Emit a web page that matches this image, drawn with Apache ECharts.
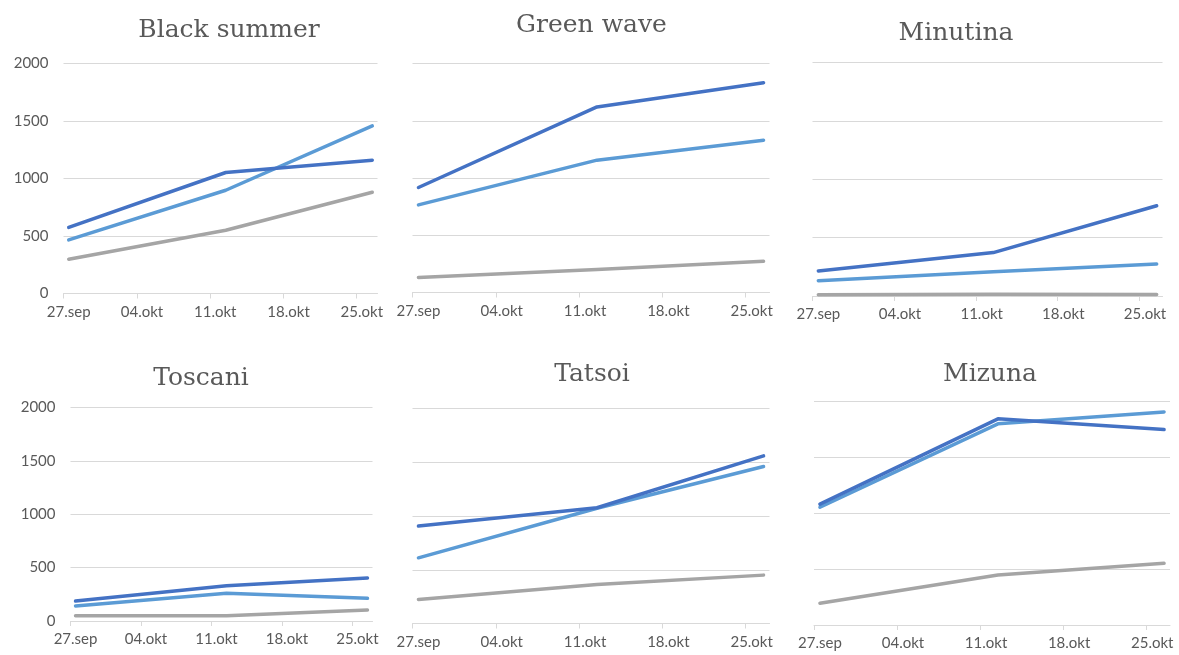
<!DOCTYPE html>
<html>
<head>
<meta charset="utf-8">
<title>Vekst per sort</title>
<script src="https://cdn.jsdelivr.net/npm/echarts@6/dist/echarts.min.js"></script>
<style>
  html, body { margin: 0; padding: 0; background: #ffffff; }
  #chart { width: 1179px; height: 655px; }
</style>
</head>
<body>
<div id="chart"></div>
<script>
// Varieties, one panel each
const varieties = ['Black summer', 'Green wave', 'Minutina', 'Toscani', 'Tatsoi', 'Mizuna'];

// Sampling dates and axis start (date axis runs 30 days)
const axisStart = '2021-09-27';
const sampleDates = ['2021-09-27', '2021-10-12', '2021-10-26'];
const tickLabels = ['27.sep', '04.okt', '11.okt', '18.okt', '25.okt'];
const yTicks = [0, 500, 1000, 1500, 2000];

// Series values per variety (same order as varieties)
const serie1 = [
  [575, 1052, 1159],
  [917, 1621, 1831],
  [215, 372, 773],
  [187, 331, 403],
  [907, 1077, 1559],
  [1081, 1845, 1749]
];
const serie2 = [
  [466, 898, 1458],
  [765, 1156, 1330],
  [131, 208, 274],
  [141, 259, 212],
  [611, 1072, 1460],
  [1054, 1800, 1907]
];
const serie3 = [
  [298, 550, 881],
  [131, 201, 273],
  [10, 14, 12],
  [50, 50, 103],
  [224, 363, 450],
  [194, 448, 552]
];

// Panel layout (pixels)
const panels = [
  { grid: { left: 63.5, top: 63.5, width: 314, height: 230 }, title: { x: 229, y: 18 }, yLabels: true },
  { grid: { left: 412.5, top: 63.5, width: 357, height: 229 }, title: { x: 591.5, y: 13 }, yLabels: false },
  { grid: { left: 812.5, top: 62.5, width: 350, height: 233.5 }, title: { x: 956, y: 21 }, yLabels: false },
  { grid: { left: 70.5, top: 407.5, width: 302, height: 213.5 }, title: { x: 201, y: 366 }, yLabels: true },
  { grid: { left: 412.5, top: 408.5, width: 357, height: 215 }, title: { x: 592, y: 362 }, yLabels: false },
  { grid: { left: 814, top: 401.5, width: 356, height: 223.5 }, title: { x: 990, y: 362 }, yLabels: false }
];

const DAY = 86400000;
const dayOffset = iso => (Date.parse(iso) - Date.parse(axisStart)) / DAY;
// points sit in the middle of their day
const xPos = sampleDates.map(d => dayOffset(d) + 0.5);
const tickDays = tickLabels.map((_, i) => i * 7);
const labelDays = tickDays.map(d => d + 0.5);

const AXIS_GREY = '#d9d9d9';
const TEXT_GREY = '#595959';
const LABEL_FONT = 'Lato, "Open Sans", sans-serif';

const seriesDefs = [
  { name: 'Serie2', values: serie2, color: '#5b9bd5' },
  { name: 'Serie3', values: serie3, color: '#a5a5a5' },
  { name: 'Serie1', values: serie1, color: '#4472c4' }
];

const option = {
  animation: false,
  backgroundColor: '#ffffff',
  title: [],
  grid: [],
  xAxis: [],
  yAxis: [],
  series: []
};

varieties.forEach((name, p) => {
  const cfg = panels[p];
  option.title.push({
    text: name,
    left: cfg.title.x,
    top: cfg.title.y,
    textAlign: 'center',
    padding: 0,
    textStyle: {
      fontFamily: '"DejaVu Serif", serif',
      fontWeight: 'normal',
      fontSize: 25,
      color: TEXT_GREY
    }
  });
  option.grid.push(Object.assign({ containLabel: false, outerBoundsMode: 'none' }, cfg.grid));
  option.xAxis.push({
    type: 'value',
    gridIndex: p,
    min: 0,
    max: 30,
    splitLine: { show: false },
    axisLine: { show: true, lineStyle: { color: AXIS_GREY, width: 1 } },
    axisTick: { show: true, length: 5, customValues: tickDays, lineStyle: { color: AXIS_GREY } },
    axisLabel: {
      show: true,
      customValues: labelDays,
      margin: 11,
      color: TEXT_GREY,
      fontFamily: LABEL_FONT,
      fontSize: 15,
      formatter: v => tickLabels[Math.round((v - 0.5) / 7)] || ''
    }
  });
  option.yAxis.push({
    type: 'value',
    gridIndex: p,
    min: yTicks[0],
    max: yTicks[yTicks.length - 1],
    interval: yTicks[1] - yTicks[0],
    axisLine: { show: false },
    axisTick: { show: false },
    splitLine: { show: true, lineStyle: { color: AXIS_GREY, width: 1 } },
    axisLabel: {
      show: cfg.yLabels,
      margin: 15,
      color: TEXT_GREY,
      fontFamily: LABEL_FONT,
      fontSize: 15,
      formatter: v => String(v)
    }
  });
  seriesDefs.forEach(s => {
    option.series.push({
      name: s.name,
      type: 'line',
      xAxisIndex: p,
      yAxisIndex: p,
      symbol: 'none',
      data: s.values[p].map((v, i) => [xPos[i], v]),
      lineStyle: { color: s.color, width: 3.5, cap: 'round', join: 'round' },
      itemStyle: { color: s.color }
    });
  });
});

const chart = echarts.init(document.getElementById('chart'), null, { renderer: 'canvas' });
chart.setOption(option);
</script>
</body>
</html>
